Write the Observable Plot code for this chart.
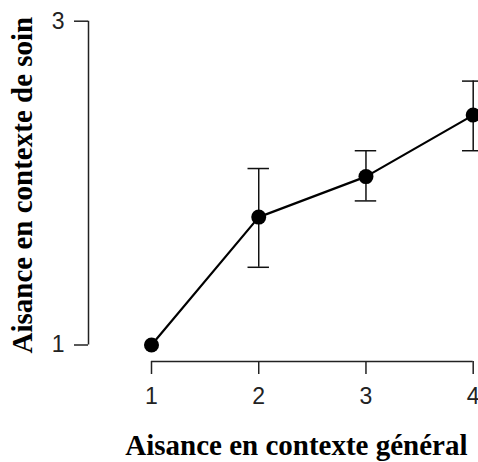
<!DOCTYPE html>
<html>
<head>
<meta charset="utf-8">
<script src="https://cdn.jsdelivr.net/npm/d3@7"></script>
<script src="https://cdn.jsdelivr.net/npm/@observablehq/plot@0.6"></script>
<style>
  html, body { margin: 0; padding: 0; background: #fff; }
  svg { display: block; }
</style>
</head>
<body>
<div id="chart"></div>
<script>
const xValues = [1, 2, 3, 4];
const means = [1.0, 1.79, 2.04, 2.42];
const lower = [1.0, 1.48, 1.89, 2.20];
const upper = [1.0, 2.09, 2.20, 2.63];
const xTicks = [1, 2, 3, 4];
const yTicks = [1, 3];
const xLabel = "Aisance en contexte général";
const yLabel = "Aisance en contexte de soin";

const data = xValues.map((x, i) => ({x, y: means[i], lo: lower[i], hi: upper[i]}));
const bars = data.filter(d => d.hi > d.lo);

const serif = "'Liberation Serif', 'Times New Roman', serif";
const sans = "'Liberation Sans', Arial, sans-serif";
const capHalf = 0.1;
const fmt = d => String(d);

const chart = Plot.plot({
  width: 478,
  height: 462,
  marginLeft: 151,
  marginRight: 5.3,
  marginTop: 20.7,
  marginBottom: 117.5,
  style: {fontFamily: sans},
  x: {domain: [1, 4]},
  y: {domain: [1, 3]},
  marks: [
    // y axis (offset left, R style)
    Plot.ruleX([xTicks[0]], {y1: yTicks[0], y2: yTicks[yTicks.length - 1], dx: -63, stroke: "#222", strokeWidth: 1.5}),
    Plot.axisY({ticks: yTicks, tickFormat: fmt, tickSize: 14, tickPadding: 10, dx: -63, fontSize: 23, fontFamily: sans, stroke: "#222", strokeWidth: 1.5, color: "#222", label: null}),
    // x axis (offset down)
    Plot.ruleY([yTicks[0]], {x1: xTicks[0], x2: xTicks[xTicks.length - 1], dy: 16.5, stroke: "#222", strokeWidth: 1.5}),
    Plot.axisX({ticks: xTicks, tickFormat: fmt, tickSize: 13, tickPadding: 13, dy: 16.5, fontSize: 23, fontFamily: sans, stroke: "#222", strokeWidth: 1.5, color: "#222", label: null}),
    // error bars
    Plot.ruleX(bars, {x: "x", y1: "lo", y2: "hi", stroke: "#111", strokeWidth: 1.5}),
    Plot.ruleY(bars, {y: "hi", x1: d => d.x - capHalf, x2: d => d.x + capHalf, stroke: "#111", strokeWidth: 1.5}),
    Plot.ruleY(bars, {y: "lo", x1: d => d.x - capHalf, x2: d => d.x + capHalf, stroke: "#111", strokeWidth: 1.5}),
    // line + points
    Plot.line(data, {x: "x", y: "y", stroke: "#000", strokeWidth: 2.2}),
    Plot.dot(data, {x: "x", y: "y", r: 7.5, fill: "#000", stroke: "none"}),
    // axis titles
    Plot.text([xLabel], {frameAnchor: "bottom", dx: -16, dy: 110, lineAnchor: "bottom", textAnchor: "middle", fontSize: 29, fontWeight: "bold", fontFamily: serif, fill: "#000"}),
    Plot.text([yLabel], {frameAnchor: "left", dx: -129, dy: 2, rotate: -90, textAnchor: "middle", fontSize: 29, fontWeight: "bold", fontFamily: serif, fill: "#000"})
  ]
});
document.getElementById("chart").appendChild(chart);
</script>
</body>
</html>
